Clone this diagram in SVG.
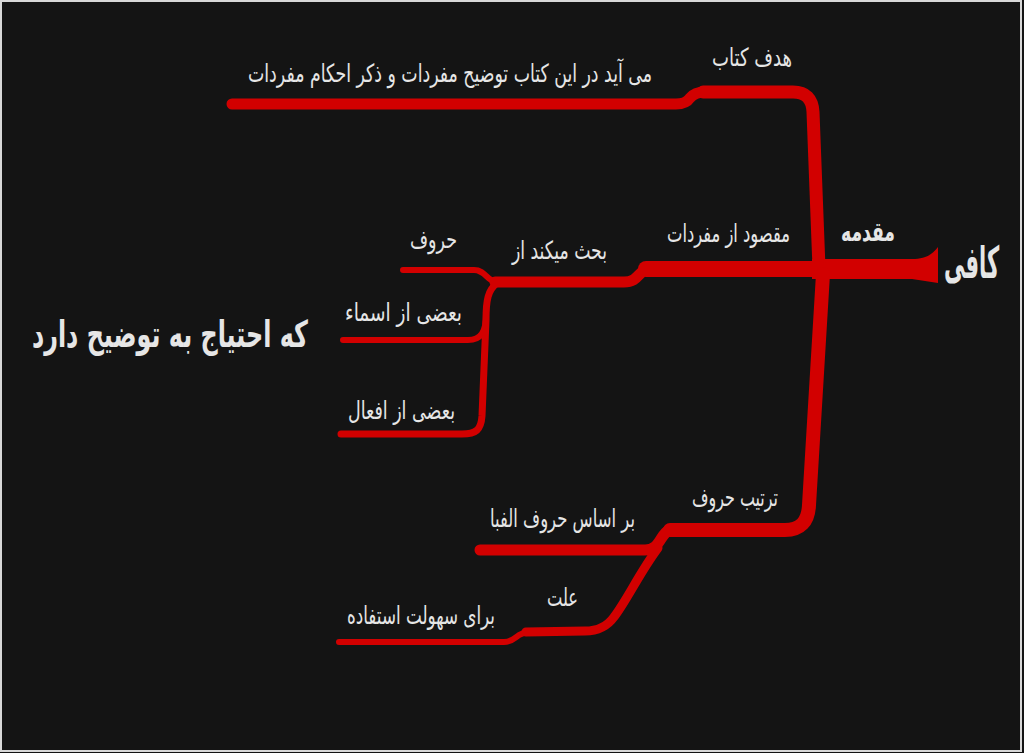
<svg xmlns="http://www.w3.org/2000/svg" width="1024" height="753" viewBox="0 0 1024 753">
<style>
.lbl{font-family:"DejaVu Sans Condensed","DejaVu Sans",sans-serif;fill:#e6e6e6;font-size:25px}
.bold{font-weight:bold}
.big{font-size:44px}
.mid{font-size:27px}
.hl{font-size:37px}
.br{fill:none;stroke:#d20000;stroke-linecap:round;stroke-linejoin:round}
</style>
<rect x="0" y="0" width="1024" height="753" fill="#141414"/>
<rect x="1" y="1" width="1020" height="750" fill="none" stroke="#d8d8d8" stroke-width="2"/>
<g id="connectors">
<path d="M812 259 L912 259 C925 259 932 255 938 247 L938 283 L912 279 L812 279 Z" fill="#d20000"/>
<path class="br" stroke-width="13" d="M819 268 L813 112 Q812 92 793 92 L703 92"/>
<path class="br" stroke-width="11" d="M705 92 Q695 92 690 98 Q686 104 676 104 L232 104"/>
<path class="br" stroke-width="16" d="M818 269 L646 269"/>
<path class="br" stroke-width="11" d="M650 269 C638 269 640 282 624 282 L495 282"/>
<path class="br" stroke-width="6" d="M497 282 C487 282 486 270 474 270 L403 270"/>
<path class="br" stroke-width="7" d="M497 283 C488 290 486 300 486 320 L482 416 C481 430 476 434 462 434 L341 434"/>
<path class="br" stroke-width="6" d="M486 314 C486 332 481 340 468 340 L343 340"/>
<path class="br" stroke-width="14" d="M823 274 L809 505 Q808 530 785 530 L670 530"/>
<path class="br" stroke-width="11" d="M672 530 C660 530 662 550 645 550 L480 550"/>
<path class="br" stroke-width="9" d="M658 548 C640 572 627 600 614 617 Q604 631 585 631 L526 632"/>
<path class="br" stroke-width="6" d="M530 632 C516 632 516 642 504 642 L339 642"/>
</g>
<g id="n-root"><text class="lbl bold big" transform="translate(944,278) scale(0.53,1)" x="0" y="0" textLength="104" lengthAdjust="spacingAndGlyphs">کافی</text></g>
<g id="n-moqaddame"><text class="lbl bold mid" transform="translate(841,241) scale(0.72,1)" x="0" y="0" textLength="75" lengthAdjust="spacingAndGlyphs">مقدمه</text></g>
<g id="n-hadaf"><text class="lbl" transform="translate(712,66) scale(0.81,1)" x="0" y="0" textLength="98.8" lengthAdjust="spacingAndGlyphs">هدف کتاب</text></g>
<g id="n-hadaf-desc"><text class="lbl" transform="translate(248,82) scale(0.77,1)" x="0" y="0" textLength="524.7" lengthAdjust="spacingAndGlyphs">می آید در این کتاب توضیح مفردات و ذکر احکام مفردات</text></g>
<g id="n-maqsud"><text class="lbl" transform="translate(667,242) scale(0.73,1)" x="0" y="0" textLength="168.5" lengthAdjust="spacingAndGlyphs">مقصود از مفردات</text></g>
<g id="n-bahs"><text class="lbl" transform="translate(512,259) scale(0.76,1)" x="0" y="0" textLength="125" lengthAdjust="spacingAndGlyphs">بحث میکند از</text></g>
<g id="n-horuf"><text class="lbl" transform="translate(410,248) scale(0.78,1)" x="0" y="0" textLength="60.3" lengthAdjust="spacingAndGlyphs">حروف</text></g>
<g id="n-asma"><text class="lbl" transform="translate(345,321) scale(0.83,1)" x="0" y="0" textLength="141" lengthAdjust="spacingAndGlyphs">بعضی از اسماء</text></g>
<g id="n-afal"><text class="lbl" transform="translate(348,419) scale(0.78,1)" x="0" y="0" textLength="137.2" lengthAdjust="spacingAndGlyphs">بعضی از افعال</text></g>
<g id="n-tozih"><text class="lbl bold hl" transform="translate(32,347) scale(0.72,1)" x="0" y="0" textLength="383.3" lengthAdjust="spacingAndGlyphs">که احتیاج به توضیح دارد</text></g>
<g id="n-tartib"><text class="lbl" transform="translate(692,506) scale(0.71,1)" x="0" y="0" textLength="121.1" lengthAdjust="spacingAndGlyphs">ترتیب حروف</text></g>
<g id="n-alefba"><text class="lbl" transform="translate(490,527) scale(0.73,1)" x="0" y="0" textLength="198.6" lengthAdjust="spacingAndGlyphs">بر اساس حروف الفبا</text></g>
<g id="n-ellat"><text class="lbl" transform="translate(547,606) scale(0.76,1)" x="0" y="0" textLength="40.8" lengthAdjust="spacingAndGlyphs">علت</text></g>
<g id="n-sohulat"><text class="lbl" transform="translate(347,624) scale(0.75,1)" x="0" y="0" textLength="197.3" lengthAdjust="spacingAndGlyphs">برای سهولت استفاده</text></g>
</svg>
